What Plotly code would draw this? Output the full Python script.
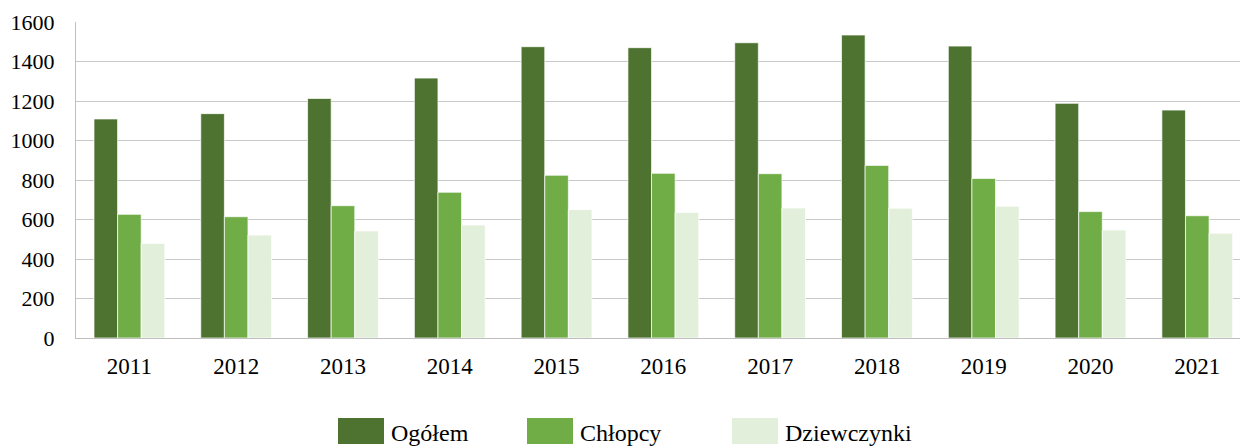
import plotly.graph_objects as go

years = ["2011", "2012", "2013", "2014", "2015", "2016", "2017", "2018", "2019", "2020", "2021"]
ogolem = [1109, 1136, 1213, 1316, 1475, 1470, 1495, 1534, 1478, 1188, 1154]
chlopcy = [626, 614, 670, 738, 824, 834, 832, 874, 808, 640, 619]
dziewczynki = [479, 521, 542, 572, 650, 636, 658, 657, 667, 547, 530]
series_names = ["Ogółem", "Chłopcy", "Dziewczynki"]
colors = ["#4e7330", "#70ad47", "#e2efda"]
y_ticks = [0, 200, 400, 600, 800, 1000, 1200, 1400, 1600]

fig = go.Figure()
for name, vals, col in zip(series_names, [ogolem, chlopcy, dziewczynki], colors):
    fig.add_trace(go.Bar(x=years, y=vals, name=name, marker_color=col,
                         marker_line_color="rgba(255,255,255,0.7)", marker_line_width=1))

W, H = 1241, 446
ml, mr, mt, mb = 76, 1, 22, 108
pw = W - ml - mr
ph = H - mt - mb

def px_x(x):
    return (x - ml) / pw

def px_y(y):
    return (H - mb - y) / ph

# custom legend: swatches + labels
legend_x = [338, 527, 732]
sw_w, sw_top, sw_bot = 46, 418, 444
shapes = []
annotations = []
for lx, name, col in zip(legend_x, series_names, colors):
    shapes.append(dict(type="rect", xref="paper", yref="paper",
                       x0=px_x(lx), x1=px_x(lx + sw_w), y0=px_y(sw_bot), y1=px_y(sw_top),
                       fillcolor=col, line_width=0))
    annotations.append(dict(xref="paper", yref="paper", x=px_x(lx + sw_w + 5), y=px_y(433),
                            text=name, showarrow=False, xanchor="left", yanchor="middle",
                            font=dict(family="Liberation Serif", size=24, color="#000")))

fig.update_layout(
    width=W, height=H,
    margin=dict(l=ml, r=mr, t=mt, b=mb),
    paper_bgcolor="white", plot_bgcolor="white",
    barmode="group", bargap=0.337, bargroupgap=0,
    showlegend=False,
    font=dict(family="Liberation Serif", size=22, color="#000"),
    shapes=shapes, annotations=annotations,
    xaxis=dict(showgrid=False, showline=True, linecolor="#bfbfbf", linewidth=1,
               range=[-0.5, 10.4],
               ticks="", tickfont=dict(size=23), ticklabelstandoff=7),
    yaxis=dict(range=[0, 1600], tickvals=y_ticks, showgrid=True, gridcolor="#c8c8c8",
               gridwidth=1, showline=True, linecolor="#bfbfbf", linewidth=1,
               zeroline=False, ticks="", tickfont=dict(size=22), ticklabelstandoff=16),
)

fig.write_html("out.html", config={"displayModeBar": False},
               post_script="document.body.style.margin='0';document.body.style.overflow='hidden';")
